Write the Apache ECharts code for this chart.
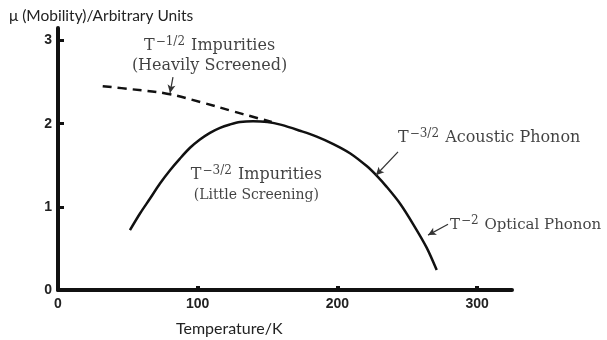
<!DOCTYPE html>
<html>
<head>
<meta charset="utf-8">
<script src="https://cdn.jsdelivr.net/npm/echarts@6/dist/echarts.min.js"></script>
<style>
  html, body { margin: 0; padding: 0; background: #fff; }
  #chart { width: 607px; height: 340px; }
</style>
</head>
<body>
<div id="chart"></div>
<script>
// Temperature axis (K) and mobility axis (arbitrary units)
const xTicks = [0, 100, 200, 300];
const yTicks = [0, 1, 2, 3];

// Combined mobility curve (impurity + phonon scattering)
const tempSolid = [51.5, 58.7, 65.9, 73, 80.2, 87.3, 94.5, 101.6, 108.8, 116, 123.1, 130.3, 139.6, 150, 160, 173.2, 185.2, 197.1, 209, 221, 228.1, 235.3, 244.8, 254.3, 263.9, 271.1];
const mobSolid  = [0.72, 0.92, 1.10, 1.28, 1.44, 1.58, 1.71, 1.81, 1.89, 1.95, 1.99, 2.02, 2.03, 2.02, 1.985, 1.915, 1.845, 1.755, 1.645, 1.49, 1.375, 1.24, 1.04, 0.79, 0.51, 0.24];

// Heavily screened impurity branch
const tempDash = [32, 52, 78, 102, 125, 140, 153];
const mobDash  = [2.45, 2.415, 2.36, 2.26, 2.15, 2.08, 2.02];

// Annotation anchors [T, mu]
const noteAnchors = [[108.5, 2.82], [142, 1.26], [243.4, 1.83], [280.6, 0.78]];
// Arrow segments [[T0, mu0], [T1, mu1]]
const arrows = [
  [[82.3, 2.56], [80.2, 2.37]],
  [[243.4, 1.66], [227.6, 1.38]],
  [[279.2, 0.79], [264.9, 0.66]]
];

const serif = 'DejaVu Serif';
const ink = '#111';

const rich = {
  b:  { fontFamily: serif, fontSize: 16, color: ink, lineHeight: 20 },
  s:  { fontFamily: serif, fontSize: 12, color: ink, lineHeight: 20, verticalAlign: 'top', padding: [0, 1, 0, 1] },
  o:  { fontFamily: serif, fontSize: 15, color: ink, lineHeight: 20 },
  sm: { fontFamily: serif, fontSize: 14, color: ink, lineHeight: 20 }
};

const noteTexts = [
  { text: '{b|T}{s|\u22121/2}{b| Impurities}\n{b|(Heavily Screened)}', align: 'center' },
  { text: '{b|T}{s|\u22123/2}{b| Impurities}\n{sm|(Little Screening)}', align: 'center' },
  { text: '{b|T}{s|\u22123/2}{b| Acoustic Phonon}', align: 'left' },
  { text: '{o|T}{s|\u22122}{o| Optical Phonon}', align: 'left' }
];

const chart = echarts.init(document.getElementById('chart'), null, { renderer: 'canvas' });

chart.setOption({
  animation: false,
  backgroundColor: '#fff',
  title: [
    {
      text: '\u03bc (Mobility)/Arbitrary Units',
      left: 4, top: 3,
      textStyle: { fontFamily: 'Lato', fontSize: 15.5, fontWeight: 'normal', color: '#222' }
    },
    {
      text: 'Temperature/K',
      left: 171, top: 316,
      textStyle: { fontFamily: 'Lato', fontSize: 16, fontWeight: 'normal', color: '#222' }
    }
  ],
  grid: { left: 58, top: 28, width: 454, height: 262, containLabel: false },
  xAxis: {
    type: 'value', min: 0, max: 325,
    axisLine: { lineStyle: { color: '#111', width: 4 } },
    axisTick: { show: true, inside: true, length: 4, lineStyle: { color: '#111', width: 4 }, customValues: xTicks },
    axisLabel: { fontFamily: 'Liberation Sans', fontWeight: 'bold', fontSize: 14, color: '#222', margin: 7, customValues: xTicks },
    splitLine: { show: false }
  },
  yAxis: {
    type: 'value', min: 0, max: 3.15,
    axisLine: { show: true, lineStyle: { color: '#111', width: 4 } },
    axisTick: { show: true, inside: true, length: 6, lineStyle: { color: '#111', width: 3 }, customValues: yTicks },
    axisLabel: { fontFamily: 'Liberation Sans', fontWeight: 'bold', fontSize: 14, color: '#222', margin: 6, customValues: yTicks },
    splitLine: { show: false }
  },
  series: [
    {
      name: 'mobility',
      type: 'line',
      smooth: 0.3,
      symbol: 'none',
      lineStyle: { color: '#111', width: 2.5 },
      data: tempSolid.map((t, i) => [t, mobSolid[i]])
    },
    {
      name: 'screened',
      type: 'line',
      smooth: 0.4,
      symbol: 'none',
      lineStyle: { color: '#111', width: 2.5, type: [9, 6] },
      data: tempDash.map((t, i) => [t, mobDash[i]])
    },
    {
      name: 'notes',
      type: 'scatter',
      symbolSize: 0,
      silent: true,
      data: noteAnchors.map((p, i) => ({
        value: p,
        label: {
          show: true,
          position: 'inside',
          align: noteTexts[i].align,
          verticalAlign: 'middle',
          formatter: noteTexts[i].text,
          rich: rich
        }
      })),
      markLine: {
        silent: true,
        symbol: ['none', 'arrow'],
        symbolSize: [6, 8],
        label: { show: false },
        lineStyle: { color: '#333', width: 1.2, type: 'solid' },
        data: arrows.map(a => [{ coord: a[0] }, { coord: a[1] }])
      }
    }
  ]
});
</script>
</body>
</html>
